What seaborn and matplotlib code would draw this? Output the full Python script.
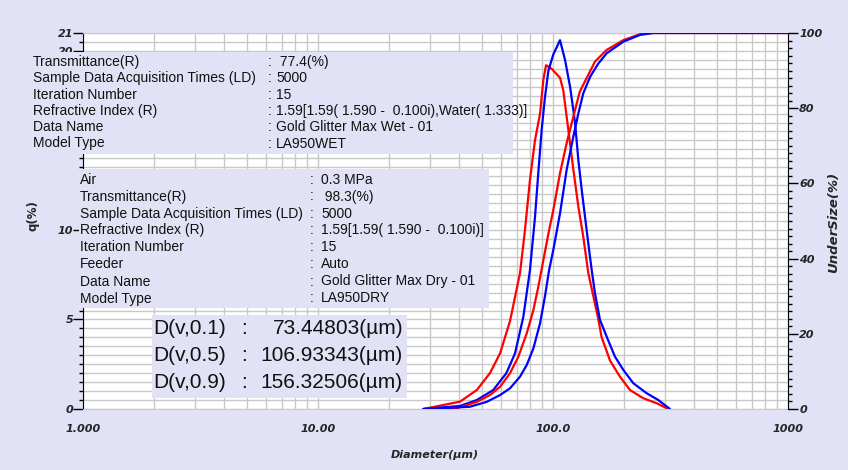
import matplotlib
matplotlib.use("Agg")
import matplotlib.pyplot as plt
import seaborn as sns
import pandas as pd
from matplotlib.patches import Rectangle
from matplotlib.ticker import FixedLocator, NullFormatter

# ---------------- data ----------------
wet_q_d = [28.1, 40.2, 47.4, 53.9, 59.5, 65.6, 72.4, 76.0, 79.8, 83.8, 88.1, 91.0, 93.4,
           98.7, 107.1, 110.6, 116.2, 122.0, 128.2, 134.6, 141.3, 148.5, 156.0, 161.1,
           174.9, 192.8, 212.7, 242.3, 276.3, 309.6]
wet_q = [0.0, 0.41, 1.06, 2.0, 3.1, 4.9, 7.6, 10.0, 12.8, 15.0, 16.5, 18.4, 19.2,
         19.0, 18.5, 17.8, 15.6, 13.4, 11.3, 9.6, 7.6, 6.3, 5.0, 4.0,
         2.7, 1.8, 1.06, 0.6, 0.32, 0.0]

dry_q_d = [28.1, 40.2, 47.4, 55.7, 63.3, 68.9, 74.8, 79.8, 83.8, 86.6, 89.5, 92.4, 95.6,
           100.3, 107.1, 112.5, 118.2, 124.1, 128.2, 132.6, 136.8, 141.3, 146.1, 150.9,
           158.5, 169.2, 183.6, 199.2, 219.6, 250.5, 280.6, 314.6]
dry_q = [0.0, 0.17, 0.5, 1.06, 2.0, 3.1, 5.16, 7.76, 10.7, 13.2, 15.6, 17.4, 18.9,
         19.8, 20.6, 19.5, 18.0, 16.0, 13.9, 12.2, 10.75, 9.25, 7.76, 6.46,
         4.97, 4.04, 2.92, 2.18, 1.44, 0.88, 0.5, 0.0]

wet_u_d = [28.1, 38.9, 47.4, 53.9, 59.5, 65.6, 71.2, 77.3, 82.5, 86.6, 91.0, 95.5, 100.3,
           107.1, 114.3, 122.0, 130.0, 150.9, 169.2, 199.2, 234.9, 259.0, 1000.0]
wet_u = [0.0, 0.2, 1.9, 3.7, 5.9, 9.5, 13.9, 20.1, 26.3, 32.5, 39.6, 46.5, 52.9,
         62.7, 70.7, 77.7, 84.4, 92.4, 95.5, 98.1, 99.7, 100.0, 100.0]

dry_u_d = [28.1, 44.3, 52.2, 59.5, 65.6, 72.4, 77.3, 82.5, 88.1, 92.4, 96.3, 100.3, 107.1,
           114.3, 122.0, 128.2, 134.6, 144.0, 156.0, 169.2, 199.2, 234.9, 268.0, 1000.0]
dry_u = [0.0, 0.6, 1.9, 3.7, 5.5, 8.6, 11.7, 16.1, 22.8, 29.9, 37.0, 42.3, 52.0,
         63.6, 72.4, 78.6, 84.0, 88.4, 91.9, 94.6, 97.7, 99.5, 100.0, 100.0]

x_ticks = [1, 10, 100, 1000]
x_tick_labels = ["1.000", "10.00", "100.0", "1000"]
q_ticks = [0, 5, 10, 15, 20, 21]
q_tick_labels = ["0", "5", "10", "", "20", "21"]   # 15 is hidden by the info box
u_ticks = [0, 20, 40, 60, 80, 100]
u_tick_labels = ["0", "20", "40", "60", "80", "100"]

wet_labels = ["Transmittance(R)", "Sample Data Acquisition Times (LD)", "Iteration Number",
              "Refractive Index (R)", "Data Name", "Model Type"]
wet_values = [" 77.4(%)", "5000", "15", "1.59[1.59( 1.590 -  0.100i),Water( 1.333)]",
              "Gold Glitter Max Wet - 01", "LA950WET"]
dry_labels = ["Air", "Transmittance(R)", "Sample Data Acquisition Times (LD)",
              "Refractive Index (R)", "Iteration Number", "Feeder", "Data Name", "Model Type"]
dry_values = ["0.3 MPa", " 98.3(%)", "5000", "1.59[1.59( 1.590 -  0.100i)]", "15", "Auto",
              "Gold Glitter Max Dry - 01", "LA950DRY"]
d_labels = ["D(v,0.1)", "D(v,0.5)", "D(v,0.9)"]
d_values = ["73.44803(\u00b5m)", "106.93343(\u00b5m)", "156.32506(\u00b5m)"]

# ---------------- style ----------------
sns.set_style("white")
plt.rcParams['font.family'] = ['Liberation Sans', 'DejaVu Sans']

BG = '#e2e2f6'
GRID = '#c8c8c8'
W, H = 848, 470
L, R, T, B = 83, 788, 33, 409

fig = plt.figure(figsize=(W / 100, H / 100), dpi=100, facecolor=BG)
ax = fig.add_axes([L / W, 1 - B / H, (R - L) / W, (B - T) / H])
ax.set_facecolor('white')
ax2 = ax.twinx()

tick_font = dict(family='DejaVu Sans', weight='bold', style='italic', size=8)

# curves
sns.lineplot(x=wet_q_d, y=wet_q, ax=ax, color='#ff0000', lw=1.6, estimator=None, sort=False)
sns.lineplot(x=dry_q_d, y=dry_q, ax=ax, color='#0000ff', lw=1.6, estimator=None, sort=False)
sns.lineplot(x=wet_u_d, y=wet_u, ax=ax2, color='#ff0000', lw=1.6, estimator=None, sort=False)
sns.lineplot(x=dry_u_d, y=dry_u, ax=ax2, color='#0000ff', lw=1.6, estimator=None, sort=False)

ax.set_xscale('log')
ax.set_xlim(1, 1000)
ax.set_ylim(0, 21)
ax2.set_ylim(0, 100)

minor_x = [m * 10 ** e for e in range(0, 3) for m in range(2, 10)]
ax.xaxis.set_major_locator(FixedLocator(x_ticks))
ax.xaxis.set_minor_locator(FixedLocator(minor_x))
ax.xaxis.set_minor_formatter(NullFormatter())
ax.set_xticks(x_ticks, labels=x_tick_labels, **tick_font)

ax.set_yticks(q_ticks, labels=q_tick_labels, **tick_font)
ax.yaxis.set_minor_locator(FixedLocator([i * 0.5 for i in range(43)]))
ax2.set_yticks(u_ticks, labels=u_tick_labels, **tick_font)
ax2.yaxis.set_minor_locator(FixedLocator(list(range(0, 101, 2))))

ax.grid(True, which='both', axis='both', color=GRID, lw=1)
ax.set_axisbelow(True)

ax.tick_params(axis='x', which='both', direction='out', length=4, width=1, color='black', pad=7)
ax.tick_params(axis='y', which='major', direction='out', length=7, width=1, color='black', pad=0)
ax.tick_params(axis='y', which='minor', direction='out', length=3, width=1, color='black')
ax2.tick_params(axis='y', which='major', direction='out', length=7, width=1, color='black', pad=1)
ax2.tick_params(axis='y', which='minor', direction='out', length=3, width=1, color='black')

for s in ['top', 'bottom']:
    ax.spines[s].set_color(GRID)
ax.spines['right'].set_visible(False)
ax.spines['left'].set_color('black')
ax2.spines['right'].set_color('black')
for s in ['top', 'bottom', 'left']:
    ax2.spines[s].set_visible(False)

ax.set_xlabel('')
ax.set_ylabel('')
ax2.set_ylabel('')

# axis titles
fig.text(435 / W, 1 - 455 / H, 'Diameter(\u00b5m)', ha='center', va='center',
         family='DejaVu Sans', weight='bold', style='italic', size=8)
fig.text(33 / W, 1 - 216 / H, 'q(%)', ha='center', va='center', rotation=90,
         family='DejaVu Sans', weight='bold', size=8.5)
fig.text(834 / W, 1 - 222 / H, 'UnderSize(%)', ha='center', va='center', rotation=90,
         family='DejaVu Sans', weight='bold', style='italic', size=9.5)


def box(x0, y0, x1, y1):
    fig.add_artist(Rectangle((x0 / W, 1 - y1 / H), (x1 - x0) / W, (y1 - y0) / H,
                             transform=fig.transFigure, facecolor=BG, edgecolor='none',
                             zorder=5))


def txt(x, y, s, size=10, ha='left'):
    fig.text(x / W, 1 - y / H, s, ha=ha, va='center', size=size, color='#111111',
             family='Liberation Sans', zorder=6)


# box 1 : wet
box(30, 52, 513, 154)
for i, (lab, val) in enumerate(zip(wet_labels, wet_values)):
    y = 62 + i * 16.3
    txt(33, y, lab)
    txt(268, y, ':')
    txt(276, y, val)

# box 2 : dry
box(79, 169, 489, 308)
for i, (lab, val) in enumerate(zip(dry_labels, dry_values)):
    y = 179.5 + i * 17.0
    txt(80, y, lab)
    txt(310, y, ':')
    txt(321, y, val)

# box 3 : D values
box(152, 315, 407, 398)
for i, (lab, val) in enumerate(zip(d_labels, d_values)):
    y = 329 + i * 26.5
    txt(153, y, lab, size=15)
    txt(241, y, ':', size=15)
    txt(403, y, val, size=15, ha='right')

fig.savefig('out.png', dpi=100, facecolor=BG)
